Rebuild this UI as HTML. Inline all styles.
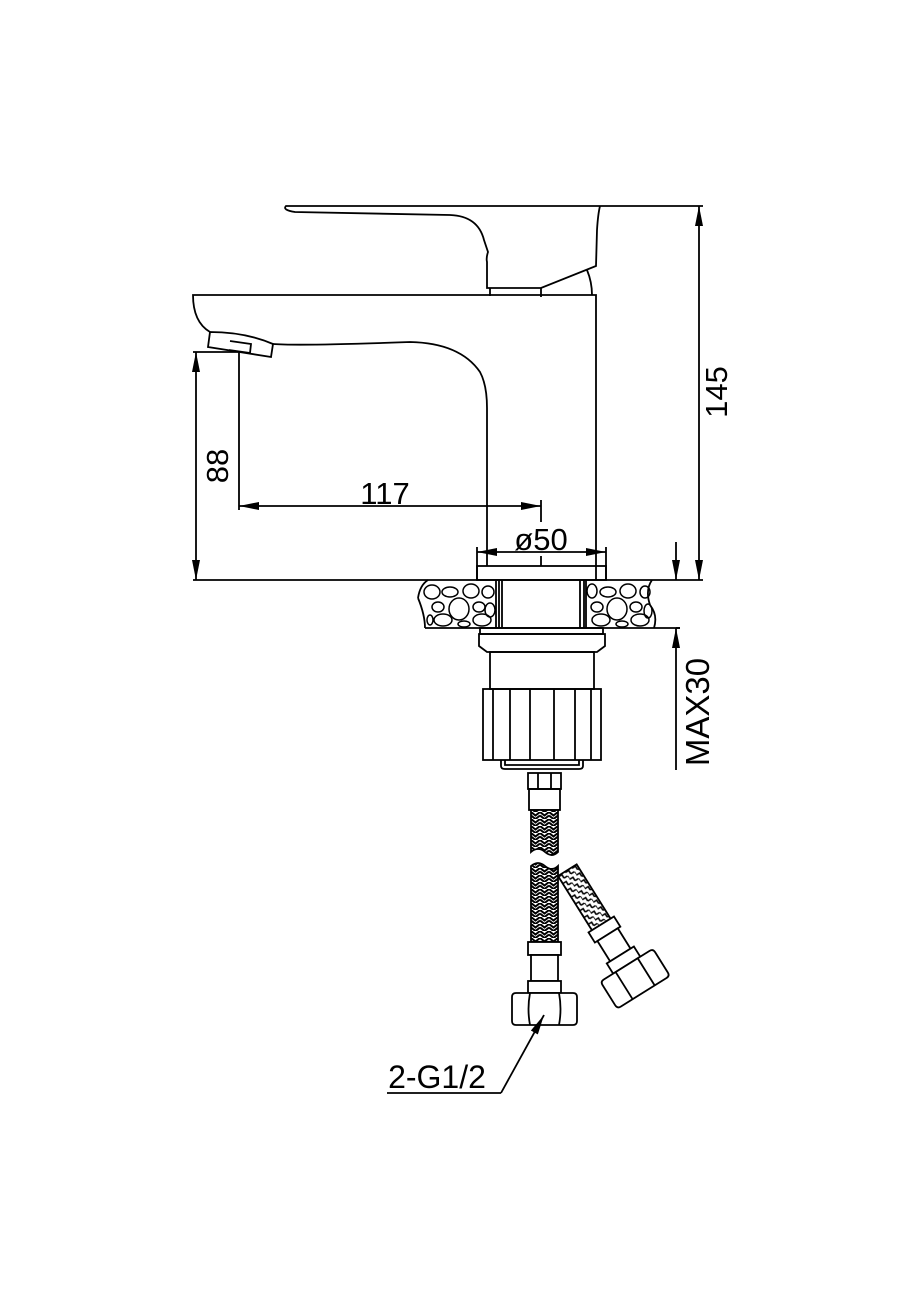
<!DOCTYPE html>
<html><head><meta charset="utf-8"><style>
html,body{margin:0;padding:0;background:#fff;}
svg{display:block;}
text{font-family:"Liberation Sans",sans-serif;fill:#000;}
</style></head><body>
<svg width="919" height="1300" viewBox="0 0 919 1300" xmlns="http://www.w3.org/2000/svg">
<defs>
<marker id="a" viewBox="0 0 20 8" refX="20" refY="4" markerWidth="20" markerHeight="8" markerUnits="userSpaceOnUse" orient="auto-start-reverse"><path d="M0,0 L20,4 L0,8 Z" fill="#000"/></marker>
<pattern id="br" width="9" height="7" patternUnits="userSpaceOnUse">
<rect width="9" height="7" fill="#fff"/>
<path d="M0,0 L4.5,3.5 L9,0 M0,3.5 L4.5,7 L9,3.5" stroke="#000" stroke-width="2" fill="none"/>
</pattern>
<pattern id="br2" width="8" height="8" patternUnits="userSpaceOnUse">
<rect width="8" height="8" fill="#fff"/>
<path d="M0,1 H4 V5 M4,5 H8 M0,5 V8" stroke="#000" stroke-width="1.6" fill="none"/>
</pattern>
</defs>
<g fill="none" stroke="#000" stroke-width="1.8">
<path d="M600,206 H286 Q282,210 295,212 L450,215 Q478,216 484,240 L488,252 Q486,258 487,262 V288 H541 L596,266 L597,230 Q598,214 600,206"/>
<path d="M490,288 V296 M541,288 V297 M587,270 Q592,282 592,295"/>
<path d="M600,206 H703"/>
<path d="M596,580 V295 H193 Q193,322 210,332"/>
<path d="M210,332 Q245,332 273,344 L271,357 L208,347 Z"/>
<path d="M230,341 L251,344 L250,353 L229,350"/>
<path d="M273,344 Q300,346 410,342 Q460,343 480,372 Q487,385 487,408 V566"/>
<path d="M193,352 H238 M239,352 V510"/>
<path d="M196,352 V580" marker-start="url(#a)" marker-end="url(#a)"/>
<path d="M239,506 H541" marker-start="url(#a)" marker-end="url(#a)"/>
<path d="M541,500 V522"/>
<path d="M699,206 V580" marker-start="url(#a)" marker-end="url(#a)"/>
<path d="M193,580 H703"/>
<path d="M477,552 H606" marker-start="url(#a)" marker-end="url(#a)"/>
<path d="M477,547 V580 M606,547 V580 M541,556 V566"/>
<rect x="477" y="566" width="129" height="14"/>
<path d="M425,628 H680"/>
<path d="M418,598 Q420,585 428,580 M496,580 V628 M586,580 V628 M652,580 Q645,590 650,605 Q658,615 654,628 M418,598 Q425,615 425,628"/>
<path d="M499,580 V628 M502,580 V628 M580,580 V628 M584,580 V628"/>
</g>
<g fill="none" stroke="#000" stroke-width="1.5">
<ellipse cx="432" cy="592" rx="8" ry="7"/><ellipse cx="450" cy="592" rx="8" ry="5"/><ellipse cx="471" cy="591" rx="8" ry="7"/><ellipse cx="488" cy="592" rx="6" ry="6"/>
<ellipse cx="438" cy="607" rx="6" ry="5"/><ellipse cx="459" cy="609" rx="10" ry="11"/><ellipse cx="479" cy="607" rx="6" ry="5"/><ellipse cx="490" cy="610" rx="5" ry="7"/>
<ellipse cx="443" cy="620" rx="9" ry="6"/><ellipse cx="482" cy="620" rx="9" ry="6"/><ellipse cx="464" cy="624" rx="6" ry="3"/><ellipse cx="430" cy="620" rx="3" ry="5"/>
<ellipse cx="592" cy="591" rx="5" ry="7"/><ellipse cx="608" cy="592" rx="8" ry="5"/><ellipse cx="628" cy="591" rx="8" ry="7"/><ellipse cx="645" cy="592" rx="5" ry="6"/>
<ellipse cx="597" cy="607" rx="6" ry="5"/><ellipse cx="617" cy="609" rx="10" ry="11"/><ellipse cx="636" cy="607" rx="6" ry="5"/><ellipse cx="648" cy="611" rx="4" ry="7"/>
<ellipse cx="601" cy="620" rx="9" ry="6"/><ellipse cx="640" cy="620" rx="9" ry="6"/><ellipse cx="622" cy="624" rx="6" ry="3"/>
</g>
<g fill="none" stroke="#000" stroke-width="1.8">
<rect x="480" y="628" width="123" height="6"/>
<path d="M479,634 H605 V646 L597,652 H487 L479,646 Z"/>
<rect x="490" y="652" width="104" height="37"/>
<rect x="483" y="689" width="118" height="71"/>
<path d="M493,689 V760 M510,689 V760 M530,689 V760 M554,689 V760 M575,689 V760 M591,689 V760"/>
<path d="M501,760 V766 Q501,769 505,769 H579 Q583,769 583,766 V760 M505,760 V765 H579 V760"/>
<path d="M676,542 V580" marker-end="url(#a)"/>
<path d="M676,770 V628" marker-end="url(#a)"/>
<path d="M680,628 H676"/>
<rect x="528" y="773" width="33" height="16"/><path d="M538,773 V789 M551,773 V789"/>
<rect x="529" y="789" width="31" height="21"/>
</g>
<g transform="translate(558,876) rotate(-32)" stroke="#000" stroke-width="1.8">
<rect x="0" y="0" width="22" height="64" fill="url(#br2)"/>
<rect x="-4" y="64" width="30" height="12" fill="#fff"/>
<rect x="-1" y="76" width="24" height="24" fill="#fff"/>
<rect x="-5" y="100" width="32" height="12" fill="#fff"/>
<path d="M-16,112 H38 Q42,112 42,116 V140 Q42,144 38,144 H-16 Q-20,144 -20,140 V116 Q-20,112 -16,112 Z M-2,112 V144 M24,112 V144" fill="#fff"/>
</g>
<g stroke="#000" stroke-width="1.8">
<path d="M531,810 H558 V852 Q552,858 545,852 Q538,846 531,852 Z" fill="url(#br)"/>
<path d="M531,866 Q538,860 545,866 Q552,872 558,866 V942 H531 Z" fill="url(#br)"/>
<rect x="528" y="942" width="33" height="13" fill="#fff"/>
<rect x="531" y="955" width="27" height="26" fill="#fff"/>
<rect x="528" y="981" width="33" height="12" fill="#fff"/>
<path d="M516,993 H573 Q577,993 577,997 V1021 Q577,1025 573,1025 H516 Q512,1025 512,1021 V997 Q512,993 516,993 Z M530,993 Q527,1009 530,1025 M559,993 Q562,1009 559,1025" fill="#fff"/>
<path d="M501,1093 L544,1015" fill="none" marker-end="url(#a)"/>
<path d="M387,1093 H501" fill="none"/>
</g>
<text x="385" y="504" font-size="31" text-anchor="middle">117</text>
<text x="541" y="550" font-size="31" text-anchor="middle">ø50</text>
<text x="437" y="1088" font-size="32" text-anchor="middle">2-G1/2</text>
<text transform="translate(228,466) rotate(-90)" font-size="31" text-anchor="middle">88</text>
<text transform="translate(727,392) rotate(-90)" font-size="31" text-anchor="middle">145</text>
<text transform="translate(709,712) rotate(-90)" font-size="33" text-anchor="middle">MAX30</text>
</svg>
</body></html>
